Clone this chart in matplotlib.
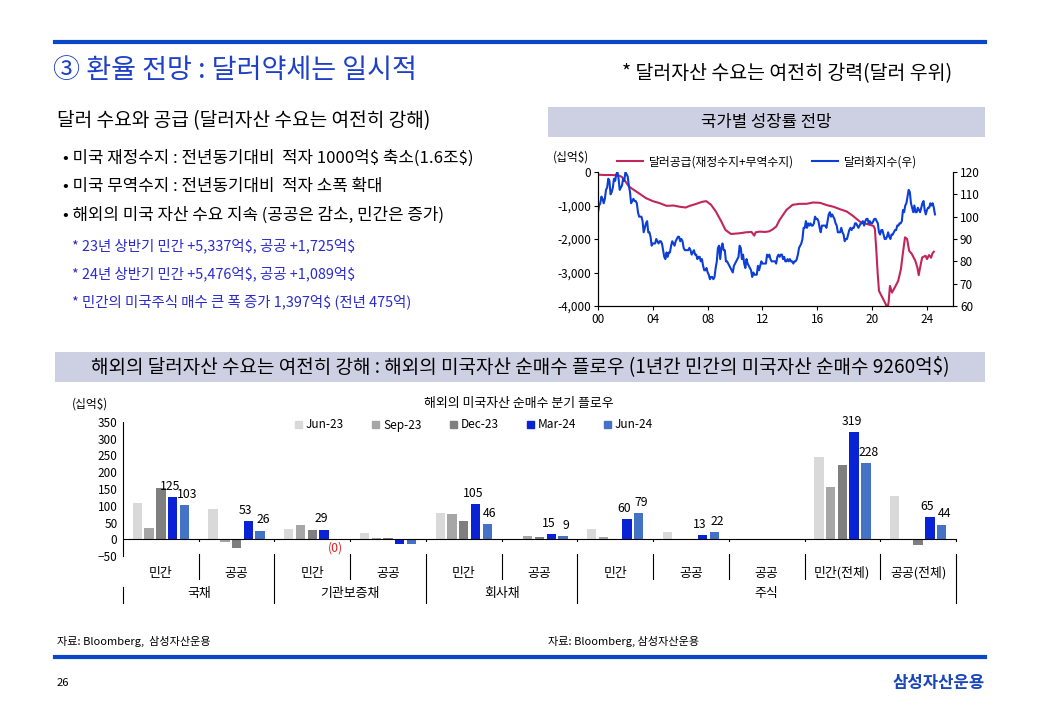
import numpy as np
import matplotlib.pyplot as plt
from matplotlib.patches import Rectangle, Patch
from matplotlib.lines import Line2D
import matplotlib.transforms as mtransforms

plt.rcParams['font.family'] = ['Noto Sans CJK KR', 'DejaVu Sans']
plt.rcParams['text.parse_math'] = False

W, H = 1040, 720

# --- line chart data: dollar supply (left, $bn) and dollar index (right) ---
supply_t = [2000.0, 2000.5, 2001.0, 2001.5, 2001.75, 2002.0, 2002.25, 2002.6, 2003.0, 2003.5,
            2004.0, 2004.5, 2005.0, 2005.5, 2006.0, 2006.4, 2006.7, 2007.1, 2007.6, 2007.9,
            2008.25, 2008.6, 2009.0, 2009.3, 2009.7, 2010.0, 2010.3, 2010.8, 2011.2, 2011.4,
            2011.5, 2011.8, 2012.2, 2012.5, 2012.75, 2013.0, 2013.25, 2013.5, 2013.75, 2014.2,
            2014.7, 2015.2, 2015.7, 2016.2, 2016.7, 2017.2, 2017.65, 2018.15, 2018.6, 2019.1,
            2019.5, 2019.85, 2020.1, 2020.2, 2020.3, 2020.4, 2020.5, 2020.75, 2021.0, 2021.1,
            2021.2, 2021.3, 2021.45, 2021.65, 2021.9, 2022.1, 2022.25, 2022.4, 2022.55, 2022.7,
            2022.9, 2023.15, 2023.3, 2023.4, 2023.5, 2023.65, 2023.9, 2024.0, 2024.15, 2024.3,
            2024.4, 2024.5]
supply_v = [-80, -90, -90, -100, -150, -280, -430, -530, -640, -780,
            -870, -930, -1010, -1000, -1040, -1060, -1010, -960, -890, -870,
            -980, -1180, -1480, -1730, -1850, -1840, -1830, -1800, -1790, -1900,
            -1800, -1780, -1790, -1770, -1710, -1630, -1430, -1280, -1130, -980,
            -950, -950, -910, -920, -990, -1040, -1110, -1180, -1310, -1480,
            -1540, -1580, -1610, -1700, -2300, -3000, -3550, -3750, -3950, -4100,
            -3900, -3400, -3600, -3450, -3250, -2900, -2400, -1950, -2000, -2350,
            -2450, -2650, -2850, -3080, -2850, -2550, -2500, -2600, -2480, -2560,
            -2430, -2380]

# monthly dollar index from Jan 2000
dxy = [102, 105, 106, 109, 108, 106, 108, 112, 113, 117, 116, 110,
       111, 113, 117, 116, 119, 120, 117, 112, 113, 114, 117, 116,
       120, 119, 118, 114, 111, 106, 107, 108, 107, 107, 106, 102,
       100, 100, 100, 98, 93, 95, 97, 98, 93, 93, 91, 87,
       88, 88, 88, 90, 89, 88, 89, 89, 88, 85, 82, 81,
       84, 82, 84, 84, 87, 89, 88, 87, 89, 90, 91, 91,
       89, 90, 89, 86, 85, 85, 85, 85, 86, 85, 83, 84,
       85, 83, 83, 81, 82, 82, 80, 81, 78, 76, 76, 77,
       75, 74, 72, 73, 73, 72, 73, 77, 80, 86, 87, 81,
       86, 88, 85, 85, 80, 80, 79, 78, 77, 76, 75, 78,
       79, 80, 81, 82, 87, 86, 81, 83, 79, 77, 81, 79,
       78, 77, 76, 73, 75, 74, 74, 74, 78, 76, 78, 80,
       79, 79, 79, 79, 83, 82, 83, 81, 80, 80, 80, 80,
       79, 82, 83, 82, 83, 83, 81, 82, 80, 80, 81, 80,
       81, 80, 80, 79, 80, 80, 81, 83, 86, 87, 88, 90,
       95, 95, 98, 95, 97, 96, 97, 96, 96, 97, 100, 99,
       99, 98, 95, 93, 96, 96, 96, 96, 95, 98, 101, 102,
       100, 101, 100, 99, 97, 96, 93, 93, 93, 95, 93, 92,
       89, 90, 90, 92, 94, 95, 94, 95, 95, 97, 97, 96,
       95, 96, 97, 97, 98, 96, 98, 99, 99, 97, 98, 97,
       97, 98, 99, 99, 98, 97, 93, 92, 94, 94, 92, 90,
       90, 91, 93, 91, 90, 92, 92, 93, 94, 94, 96, 96,
       97, 97, 98, 103, 102, 105, 106, 109, 112, 111, 106, 104,
       102, 105, 102, 102, 104, 103, 102, 104, 106, 107, 103, 101,
       103, 104, 104, 106, 105, 106, 104, 101]
dxy_t = 2000 + np.arange(len(dxy)) / 12

# --- bar chart data: quarterly net purchases of US assets ($bn) ---
categories = ['민간', '공공', '민간', '공공', '민간', '공공', '민간', '공공', '공공', '민간(전체)', '공공(전체)']
groups = ['국채', '기관보증채', '회사채', '주식']
group_span = [(0, 2), (2, 4), (4, 6), (6, 11)]
quarters = ['Jun-23', 'Sep-23', 'Dec-23', 'Mar-24', 'Jun-24']
jun23 = [107, 89, 31, 18, 77, 2, 30, 21, 0, 247, 130]
sep23 = [33, -9, 42, 3, 74, 10, 7, -2, 0, 155, -2]
dec23 = [152, -27, 27, 3, 54, 8, -3, 2, 0, 222, -18]
mar24 = [125, 53, 29, -13, 105, 15, 60, 13, 0, 319, 65]
jun24 = [103, 26, 0, -13, 46, 9, 79, 22, 0, 228, 44]
labelled = [True, True, True, False, True, True, True, True, False, True, True]
bar_colors = ['#d9d9d9', '#a6a6a6', '#7f7f7f', '#0a22d6', '#4472c4']

fig = plt.figure(figsize=(W / 100, H / 100), dpi=100)


def fx(x):
    return x / W


def fy(y):
    return 1 - y / H


def hline(y, x0, x1, lw, color):
    fig.add_artist(Line2D([fx(x0), fx(x1)], [fy(y), fy(y)], lw=lw, color=color))


def band(x0, x1, y0, y1, text, size):
    fig.add_artist(Rectangle((fx(x0), fy(y1)), fx(x1) - fx(x0), fy(y0) - fy(y1),
                             color='#cdd0e2', lw=0))
    fig.text(fx((x0 + x1) / 2), fy((y0 + y1) / 2), text, ha='center', va='center', fontsize=size)


# header / footer
hline(42, 55, 985, 3, '#0a46c8')
hline(657, 55, 985, 3, '#0a46c8')
fig.text(fx(53), fy(70), '③ 환율 전망 : 달러약세는 일시적', color='#1e40c8', fontsize=19.5, va='center')
fig.text(fx(622), fy(74), '* 달러자산 수요는 여전히 강력(달러 우위)', fontsize=14, va='center')
fig.text(fx(57), fy(121), '달러 수요와 공급 (달러자산 수요는 여전히 강해)', fontsize=13.8, va='center')

bullets = ['• 미국 재정수지 : 전년동기대비  적자 1000억$ 축소(1.6조$)',
           '• 미국 무역수지 : 전년동기대비  적자 소폭 확대',
           '• 해외의 미국 자산 수요 지속 (공공은 감소, 민간은 증가)']
for i, s in enumerate(bullets):
    fig.text(fx(63), fy(158 + 28.5 * i), s, fontsize=12.1, va='center')
notes = ['* 23년 상반기 민간 +5,337억$, 공공 +1,725억$',
         '* 24년 상반기 민간 +5,476억$, 공공 +1,089억$',
         '* 민간의 미국주식 매수 큰 폭 증가 1,397억$ (전년 475억)']
for i, s in enumerate(notes):
    fig.text(fx(72), fy(246 + 28 * i), s, fontsize=10.4, va='center', color='#2a2ad0')

band(548, 985, 107, 137, '국가별 성장률 전망', 12)
band(55, 985, 352, 382,
     '해외의 달러자산 수요는 여전히 강해 : 해외의 미국자산 순매수 플로우 (1년간 민간의 미국자산 순매수 9260억$)', 13.7)

fig.text(fx(57), fy(641), '자료: Bloomberg,  삼성자산운용', fontsize=8, va='center')
fig.text(fx(548), fy(641), '자료: Bloomberg, 삼성자산운용', fontsize=8, va='center')
fig.text(fx(57), fy(683), '26', fontsize=8, va='center')
fig.text(fx(985), fy(683), '삼성자산운용', fontsize=12, va='center', ha='right',
         color='#1a47b8', fontweight='bold')

# --- line chart ---
ax1 = fig.add_axes([fx(598), fy(306), (953 - 598) / W, (306 - 172) / H])
ax2 = ax1.twinx()
l1, = ax1.plot(supply_t, supply_v, color='#c2255c', lw=1.5)
l2, = ax2.plot(dxy_t, dxy, color='#0b3fd6', lw=1.5)
ax1.set_xlim(2000, 2025.9)
ax1.set_ylim(-4000, 0)
ax2.set_ylim(60, 120)
ax1.set_yticks(np.arange(-4000, 1, 1000))
ax1.set_yticklabels([f'{v:,}' for v in range(-4000, 1, 1000)])
ax2.set_yticks(np.arange(60, 121, 10))
ax1.set_xticks(np.arange(2000, 2025, 4))
ax1.set_xticklabels([f'{y % 100:02d}' for y in range(2000, 2025, 4)])
for a in (ax1, ax2):
    a.spines['top'].set_visible(False)
    a.tick_params(labelsize=8.5, length=3, width=0.8, pad=2)
    for s in a.spines.values():
        s.set_linewidth(0.8)
ax1.legend([l1, l2], ['달러공급(재정수지+무역수지)', '달러화지수(우)'], loc='lower center',
           bbox_to_anchor=(0.476, 0.99), ncol=2, frameon=False, fontsize=8.5,
           handlelength=2.2, columnspacing=1.5, borderaxespad=0, handletextpad=0.5)
fig.text(fx(553), fy(157), '(십억$)', fontsize=8.5, va='center')

# --- bar chart ---
ax = fig.add_axes([fx(123), fy(556), (956 - 123) / W, (556 - 422) / H])
x = np.arange(len(categories))
series = [jun23, sep23, dec23, mar24, jun24]
slot, width = 0.155, 0.123
for k, (vals, col, name) in enumerate(zip(series, bar_colors, quarters)):
    ax.bar(x + (k - 2) * slot, vals, width, color=col, label=name)
for k, dx in ((3, -2), (4, 2)):
    for i, v in enumerate(series[k]):
        if not labelled[i]:
            continue
        xp = i + (k - 2) * slot
        if v == 0:
            ax.text(xp, -25, '(0)', color='#e0201c', ha='center', va='center', fontsize=8.8)
        else:
            ax.annotate(str(v), (xp, v), xytext=(dx, 3), textcoords='offset points',
                        ha='center', va='bottom', fontsize=8.8)
ax.set_xlim(-0.5, len(categories) - 0.5)
ax.set_ylim(-50, 350)
ax.set_yticks(np.arange(-50, 351, 50))
ax.set_xticks([])
for s in ('top', 'right', 'bottom'):
    ax.spines[s].set_visible(False)
ax.spines['left'].set_linewidth(0.8)
ax.tick_params(axis='y', labelsize=8.5, length=0, pad=4)
ax.axhline(0, color='black', lw=0.8)

tr = mtransforms.blended_transform_factory(ax.transData, fig.transFigure)
tr0 = mtransforms.blended_transform_factory(ax.transData, ax.transData)
group_edges = [a for a, b in group_span] + [len(categories)]
for b in range(1, len(categories) + 1):
    xb = b - 0.5
    ax.plot([xb, xb], [0, -6], color='black', lw=0.8, transform=tr0, clip_on=False)
    y_end = 603 if b in group_edges else 579
    ax.plot([xb, xb], [fy(554), fy(y_end)], color='black', lw=0.8, transform=tr, clip_on=False)
ax.plot([-0.5, -0.5], [fy(587), fy(603)], color='black', lw=0.8, transform=tr, clip_on=False)
for i, c in enumerate(categories):
    ax.text(i, fy(573), c, ha='center', va='center', fontsize=9.3, transform=tr)
for g, (a, b) in zip(groups, group_span):
    ax.text((a + b - 1) / 2, fy(594), g, ha='center', va='center', fontsize=9.3, transform=tr)

fig.text(fx(519), fy(404), '해외의 미국자산 순매수 분기 플로우', ha='center', va='center', fontsize=9.3)
fig.text(fx(72), fy(404), '(십억$)', va='center', fontsize=8.5)
handles = [Patch(color=c) for c in bar_colors]
fig.legend(handles, quarters, loc='center', bbox_to_anchor=(fx(474), fy(425)), ncol=5,
           frameon=False, fontsize=8.5, handlelength=0.6, handleheight=0.6,
           columnspacing=2.4, handletextpad=0.3)

fig.savefig('out.png', dpi=100)
